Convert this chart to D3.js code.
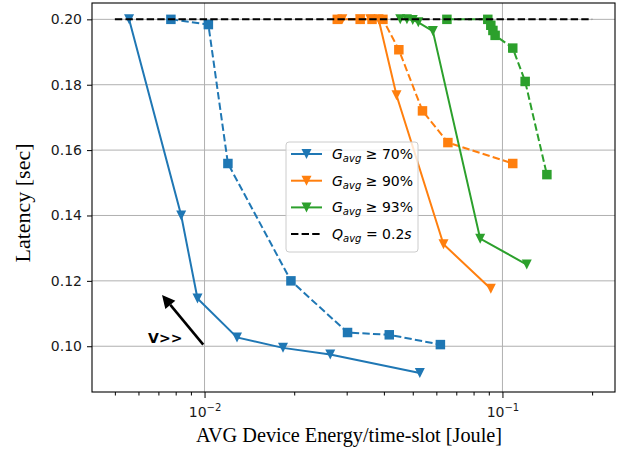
<!DOCTYPE html>
<html>
<head>
<meta charset="utf-8">
<script src="https://cdn.jsdelivr.net/npm/d3@7"></script>
<style>
  body { margin: 0; background: #fff; }
  svg { display: block; }
</style>
</head>
<body>
<div id="chart"></div>
<script>
// ---- data ----
const g70Energy = [0.00558, 0.00835, 0.00947, 0.01285, 0.01834, 0.02642, 0.0528];
const g70Latency = [0.200, 0.140, 0.1146, 0.1027, 0.0995, 0.0975, 0.0918];
const g70bEnergy = [0.00771, 0.0103, 0.01198, 0.0195, 0.0302, 0.0417, 0.0619];
const g70bLatency = [0.200, 0.1984, 0.1559, 0.120, 0.1042, 0.1035, 0.1005];

const g90Energy = [0.0290, 0.0333, 0.0360, 0.0384, 0.0441, 0.0634, 0.0914];
const g90Latency = [0.200, 0.200, 0.200, 0.200, 0.1768, 0.1312, 0.1176];
const g90bEnergy = [0.0279, 0.0333, 0.0365, 0.0397, 0.0449, 0.0539, 0.0656, 0.1083];
const g90bLatency = [0.200, 0.200, 0.200, 0.200, 0.1907, 0.1720, 0.1623, 0.1559];

const g93Energy = [0.0454, 0.0478, 0.0500, 0.0522, 0.0584, 0.0842, 0.1207];
const g93Latency = [0.200, 0.200, 0.1998, 0.1991, 0.1964, 0.1329, 0.1250];
const g93bEnergy = [0.0651, 0.0893, 0.0914, 0.0929, 0.0945, 0.1083, 0.1192, 0.1410];
const g93bLatency = [0.200, 0.200, 0.1982, 0.1966, 0.1951, 0.1912, 0.1810, 0.1525];

const qEnergy = [0.005, 0.2];
const qLatency = [0.2, 0.2];

const legendLabels = ["70%", "90%", "93%"];
const xMajorTicks = [0.01, 0.1];
const xTickExp = ["\u22122", "\u22121"];
const yTicks = [0.10, 0.12, 0.14, 0.16, 0.18, 0.20];

// ---- layout ----
const W = 622, H = 453;
const margin = { top: 3, right: 7, bottom: 61, left: 92 },
  width = W - margin.left - margin.right,
  height = H - margin.top - margin.bottom;

const blue = "#1f77b4", orange = "#ff7f0e", green = "#2ca02c";

const svg = d3.select("#chart")
  .append("svg")
  .attr("width", W)
  .attr("height", H)
  .style("font-family", "'DejaVu Sans', sans-serif");

const g = svg.append("g")
  .attr("transform", `translate(${margin.left},${margin.top})`);

const x = d3.scaleLog()
  .domain([0.00419, 0.2387])
  .range([0, width]);

const y = d3.scaleLinear()
  .domain([0.086, 0.205])
  .range([height, 0]);

// grid
g.append("g").selectAll("line")
  .data(xMajorTicks)
  .enter().append("line")
  .attr("x1", d => x(d)).attr("x2", d => x(d))
  .attr("y1", 0).attr("y2", height)
  .attr("stroke", "#b0b0b0").attr("stroke-width", 1);

g.append("g").selectAll("line")
  .data(yTicks)
  .enter().append("line")
  .attr("x1", 0).attr("x2", width)
  .attr("y1", d => y(d)).attr("y2", d => y(d))
  .attr("stroke", "#b0b0b0").attr("stroke-width", 1);

// axes
const xAxis = g.append("g")
  .attr("transform", `translate(0,${height})`)
  .call(d3.axisBottom(x).tickValues(xMajorTicks).tickSize(6).tickPadding(6).tickFormat(""));
xAxis.select(".domain").remove();

const minorTicks = x.ticks().filter(v => Math.abs(Math.log10(v) - Math.round(Math.log10(v))) > 1e-6);
const xMinor = g.append("g")
  .attr("transform", `translate(0,${height})`)
  .call(d3.axisBottom(x).tickValues(minorTicks).tickSize(3.5).tickFormat(""));
xMinor.select(".domain").remove();

xAxis.selectAll(".tick").each(function (d, i) {
  const t = d3.select(this).append("text")
    .attr("fill", "#1a1a1a")
    .attr("y", 25)
    .attr("text-anchor", "middle")
    .style("font-size", "14px")
    .style("font-family", "'DejaVu Sans', sans-serif");
  t.append("tspan").text("10");
  t.append("tspan").attr("dy", -6).style("font-size", "10px").text(xTickExp[i]);
});

const yAxis = g.append("g")
  .call(d3.axisLeft(y).tickValues(yTicks).tickSize(5).tickPadding(5).tickFormat(d3.format(".2f")));
yAxis.select(".domain").remove();
yAxis.selectAll("text")
  .attr("fill", "#1a1a1a")
  .style("font-size", "14px")
  .style("font-family", "'DejaVu Sans', sans-serif");

// series
const line = d3.line()
  .x(d => x(d[0]))
  .y(d => y(d[1]));

const triDown = s => `M0,${s / 2}L${-s / 2},${-s / 2}L${s / 2},${-s / 2}Z`;
const square = s => `M${-s / 2},${-s / 2}h${s}v${s}h${-s}Z`;

const series = [
  { xs: g70Energy, ys: g70Latency, color: blue, dash: null, marker: "v" },
  { xs: g70bEnergy, ys: g70bLatency, color: blue, dash: "7.4,3.2", marker: "s" },
  { xs: g90Energy, ys: g90Latency, color: orange, dash: null, marker: "v" },
  { xs: g90bEnergy, ys: g90bLatency, color: orange, dash: "7.4,3.2", marker: "s" },
  { xs: g93Energy, ys: g93Latency, color: green, dash: null, marker: "v" },
  { xs: g93bEnergy, ys: g93bLatency, color: green, dash: "7.4,3.2", marker: "s" }
];

series.forEach(s => {
  const pts = d3.zip(s.xs, s.ys);
  g.append("path")
    .datum(pts)
    .attr("fill", "none")
    .attr("stroke", s.color)
    .attr("stroke-width", 2)
    .attr("stroke-dasharray", s.dash)
    .attr("d", line);
  g.append("g").selectAll("path")
    .data(pts)
    .enter().append("path")
    .attr("transform", d => `translate(${x(d[0])},${y(d[1])})`)
    .attr("d", s.marker === "v" ? triDown(10) : square(9.5))
    .attr("fill", s.color);
});

// threshold line
g.append("path")
  .datum(d3.zip(qEnergy, qLatency))
  .attr("fill", "none")
  .attr("stroke", "#000")
  .attr("stroke-width", 2)
  .attr("stroke-dasharray", "7.4,3.2")
  .attr("d", line);

// frame
g.append("rect")
  .attr("width", width).attr("height", height)
  .attr("fill", "none").attr("stroke", "#000").attr("stroke-width", 1.1);

// arrow annotation
const tail = [x(0.0099), y(0.1005)], tip = [x(0.0072), y(0.1157)];
const ang = Math.atan2(tip[1] - tail[1], tip[0] - tail[0]);
const hl = 13, hw = 6.5;
const base = [tip[0] - hl * Math.cos(ang), tip[1] - hl * Math.sin(ang)];
g.append("line")
  .attr("x1", tail[0]).attr("y1", tail[1])
  .attr("x2", base[0]).attr("y2", base[1])
  .attr("stroke", "#000").attr("stroke-width", 2.6);
g.append("path")
  .attr("d", `M${tip[0]},${tip[1]}L${base[0] - hw * Math.sin(ang)},${base[1] + hw * Math.cos(ang)}L${base[0] + hw * Math.sin(ang)},${base[1] - hw * Math.cos(ang)}Z`)
  .attr("fill", "#000");
g.append("text")
  .attr("x", x(0.00738)).attr("y", y(0.1024))
  .attr("text-anchor", "middle")
  .attr("dominant-baseline", "central")
  .style("font-size", "14px")
  .style("font-weight", "bold")
  .text("V>>");

// legend
const lg = svg.append("g").attr("transform", "translate(286,142)");
lg.append("rect")
  .attr("width", 132).attr("height", 110).attr("rx", 3)
  .attr("fill", "#fff").attr("fill-opacity", 0.8)
  .attr("stroke", "#cccccc").attr("stroke-width", 1);

const legColors = [blue, orange, green];
legColors.forEach((c, i) => {
  const row = lg.append("g").attr("transform", `translate(0,${12 + i * 26.7})`);
  row.append("line").attr("x1", 5).attr("x2", 36)
    .attr("stroke", c).attr("stroke-width", 2);
  row.append("path").attr("transform", "translate(20.5,0)").attr("d", triDown(10)).attr("fill", c);
  const t = row.append("text").attr("x", 46).attr("y", 5).style("font-size", "14px");
  t.append("tspan").style("font-style", "italic").text("G");
  t.append("tspan").style("font-style", "italic").style("font-size", "10px").attr("dy", 3).text("avg");
  t.append("tspan").attr("dy", -3).text(" \u2265 " + legendLabels[i]);
});
const qrow = lg.append("g").attr("transform", `translate(0,${12 + 3 * 26.7})`);
qrow.append("line").attr("x1", 5).attr("x2", 36)
  .attr("stroke", "#000").attr("stroke-width", 2).attr("stroke-dasharray", "7.4,3.2");
const qt = qrow.append("text").attr("x", 46).attr("y", 5).style("font-size", "14px");
qt.append("tspan").style("font-style", "italic").text("Q");
qt.append("tspan").style("font-style", "italic").style("font-size", "10px").attr("dy", 3).text("avg");
qt.append("tspan").attr("dy", -3).text(" = 0.2");
qt.append("tspan").style("font-style", "italic").text("s");

// axis labels
svg.append("text")
  .attr("x", 349).attr("y", 442)
  .attr("text-anchor", "middle")
  .style("font-family", "'Liberation Serif', serif")
  .style("font-size", "20.3px")
  .text("AVG Device Energy/time-slot [Joule]");

svg.append("text")
  .attr("transform", "translate(30,203) rotate(-90)")
  .attr("text-anchor", "middle")
  .style("font-family", "'Liberation Serif', serif")
  .style("font-size", "22px")
  .text("Latency [sec]");
</script>
</body>
</html>
